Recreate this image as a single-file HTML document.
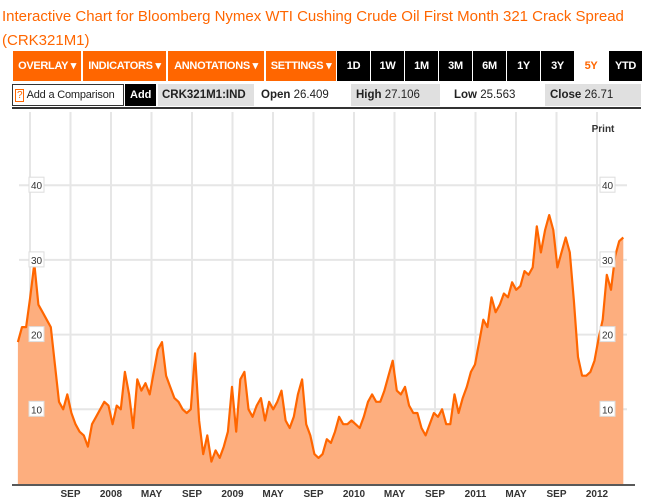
<!DOCTYPE html>
<html><head><meta charset="utf-8">
<style>
body{margin:0;width:648px;height:501px;background:#fff;font-family:"Liberation Sans",sans-serif;overflow:hidden;position:relative}
.title{position:absolute;left:2px;top:5px;width:640px;color:#ff6600;font-size:15px;line-height:24px}
.btn{position:absolute;top:51px;height:30px;line-height:30px;text-align:center;font-weight:bold;font-size:11px;color:#fff;white-space:nowrap;letter-spacing:-0.3px}
.o{background:#ff6600}
.k{background:#000}
.cell{position:absolute;top:84px;height:22px;line-height:22px;font-size:11.5px;color:#222;padding-left:5px;box-sizing:border-box;white-space:nowrap}
.g{background:#e0e0e0}
</style></head><body>
<div class="title">Interactive Chart for Bloomberg Nymex WTI Cushing Crude Oil First Month 321 Crack Spread<br>(CRK321M1)</div>
<div class="btn o" style="left:13px;width:68px">OVERLAY ▾</div>
<div class="btn o" style="left:83px;width:83px">INDICATORS ▾</div>
<div class="btn o" style="left:168px;width:96px">ANNOTATIONS ▾</div>
<div class="btn o" style="left:266px;width:70px">SETTINGS ▾</div>
<div class="btn k" style="left:337px;width:33px">1D</div>
<div class="btn k" style="left:371px;width:33px">1W</div>
<div class="btn k" style="left:405px;width:33px">1M</div>
<div class="btn k" style="left:439px;width:33px">3M</div>
<div class="btn k" style="left:473px;width:33px">6M</div>
<div class="btn k" style="left:507px;width:33px">1Y</div>
<div class="btn k" style="left:541px;width:33px">3Y</div>
<div class="btn" style="left:574px;width:34px;color:#ff6600;background:#fff">5Y</div>
<div class="btn k" style="left:609px;width:33px">YTD</div>
<div class="cell" style="left:12px;width:112px;border:1px solid #333;padding-left:2px;line-height:20px;font-size:11px;letter-spacing:-0.2px"><span style="color:#ff6600;border:1px solid #ff6600;padding:0 1px;font-size:10px">?</span> Add a Comparison</div>
<div class="cell k" style="left:125px;width:31px;color:#fff;font-weight:bold;font-size:11px">Add</div>
<div class="cell g" style="left:158px;width:96px;font-weight:bold;font-size:11.5px;padding-left:4px">CRK321M1:IND</div>
<div class="cell" style="left:256px;width:90px"><b>Open</b> 26.409</div>
<div class="cell g" style="left:351px;width:89px"><b>High</b> 27.106</div>
<div class="cell" style="left:449px;width:91px"><b>Low</b> 25.563</div>
<div class="cell g" style="left:545px;width:96px"><b>Close</b> 26.71</div>
<div style="position:absolute;left:12px;top:107px;width:629px;height:2px;background:#333"></div>
<svg id="chart" width="648" height="501" style="position:absolute;left:0;top:0"></svg>
<script>
const values=[19,21,21,25,29.5,24,23,22,21,16,11,10,12,9.5,8,7,6.5,5,8,9,10,11,10.5,8,10.5,10,15,12,7.5,14,12.5,13.5,12,15,18,19,14.5,13,11.5,11,10,9.5,10,17.5,8.5,4,6.5,3,4.5,3.5,5,7,13,7,14,15,10,9,10.5,11.5,8.5,11,10,11,12.5,8.5,7.5,9,12,14,8,6.5,4,3.5,4,6,5.5,7,9,8,8,8.5,8,7.5,9,11,12,11,11,12.5,14.5,16.5,12.5,12,13,10.5,9.5,9.5,7.5,6.5,8,9.5,9,10,8,8,12,9.5,11.5,13,15,16,19,22,21,25,23,24,25.5,25,27,26,26.5,28.5,28,29,34.5,31,34,36,34,29,31,33,31,24.5,17,14.5,14.5,15,16.5,19.5,22,28,26,30.5,32.5,33];
const startMonth=-1.2; // months relative to May 2007
const endMonth=58.6;
const yTicks=[10,20,30,40];
const xTickLabels=["SEP","2008","MAY","SEP","2009","MAY","SEP","2010","MAY","SEP","2011","MAY","SEP","2012"];
const xTickMonths=[4,8,12,16,20,24,28,32,36,40,44,48,52,56];
const NS="http://www.w3.org/2000/svg";
const svg=document.getElementById('chart');
const X=m=>30+m*(567/56);
const Y=v=>484-v*7.47;
function mk(t,a){const e=document.createElementNS(NS,t);for(const k in a)e.setAttribute(k,a[k]);svg.appendChild(e);return e;}
[0].concat(xTickMonths).forEach(m=>{const l=mk('line',{x1:X(m),x2:X(m),y1:112,y2:484,stroke:'#e6e6e6','stroke-width':2});

});
yTicks.forEach(v=>{const l=mk('line',{x1:19,x2:627,y1:Y(v),y2:Y(v),stroke:'#e6e6e6','stroke-width':2});

});
const n=values.length;
const px=i=>X(startMonth+(endMonth-startMonth)*i/(n-1));
let d='';values.forEach((v,i)=>{d+=(i?'L':'M')+px(i).toFixed(1)+' '+Y(v).toFixed(1);});
const area=mk('path',{d:d+'L'+px(n-1)+' 484L'+px(0)+' 484Z',fill:'#fdae7e'});


const line=mk('path',{d:d,fill:'none',stroke:'#ff6600','stroke-width':2.2,'stroke-linejoin':'round'});


const ax=mk('line',{x1:12,x2:635,y1:485,y2:485,stroke:'#222','stroke-width':1.5});


yTicks.forEach(v=>{[36,607].forEach(cx=>{
const r=mk('rect',{x:cx-7,y:Y(v)-8,width:15,height:15,fill:'#fff',stroke:'#ddd'});


const t=mk('text',{x:cx+0.5,y:Y(v)+4,'font-size':10,'text-anchor':'middle',fill:'#333','font-family':'Liberation Sans, sans-serif'});
t.textContent=v;

});});
xTickLabels.forEach((s,i)=>{const t=mk('text',{x:X(xTickMonths[i]),y:497,'font-size':10,'font-weight':'bold','text-anchor':'middle',fill:'#333','font-family':'Liberation Sans, sans-serif'});
t.textContent=s;

});
const p=mk('text',{x:603,y:132,'font-size':10,'font-weight':'bold','text-anchor':'middle',fill:'#333','font-family':'Liberation Sans, sans-serif'});
p.textContent='Print';


</script>
</body></html>
